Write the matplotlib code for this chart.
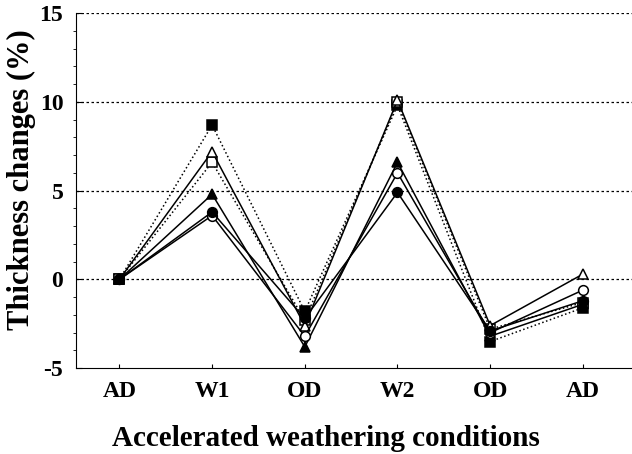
import matplotlib.pyplot as plt
from matplotlib.ticker import MultipleLocator

plt.rcParams['font.family'] = ['Liberation Serif', 'DejaVu Serif']
plt.rcParams['font.weight'] = 'bold'
plt.rcParams['axes.unicode_minus'] = False

conditions = ["AD", "W1", "OD", "W2", "OD", "AD"]

# thickness change (%) for each sample
sq_filled = [0, 8.7, -1.8, 9.8, -3.5, -1.6]
sq_open = [0, 6.6, -2.3, 10.0, -2.8, -1.3]
tri_open = [0, 7.2, -2.6, 10.1, -2.6, 0.3]
tri_filled = [0, 4.8, -3.8, 6.6, -3.2, -1.4]
circ_open = [0, 3.6, -3.2, 6.0, -3.0, -0.6]
circ_filled = [0, 3.8, -2.2, 4.9, -2.9, -1.2]

x = list(range(len(conditions)))

fig = plt.figure(figsize=(6.32, 4.54), dpi=100)
ax = fig.add_axes([0.120, 0.189, 0.880, 0.782])

styles = [
    (sq_filled, 's', 'black', ':'),
    (sq_open, 's', 'white', ':'),
    (tri_open, '^', 'white', '-'),
    (tri_filled, '^', 'black', '-'),
    (circ_open, 'o', 'white', '-'),
    (circ_filled, 'o', 'black', '-'),
]
for vals, m, fc, ls in styles:
    ax.plot(x, vals, linestyle=ls, color='black', linewidth=1.1,
            marker=m, markersize=7, markerfacecolor=fc,
            markeredgecolor='black', markeredgewidth=1.1, zorder=3)

ax.set_xlim(-0.47, 5.53)
ax.set_ylim(-5, 15)
ax.set_xticks(x)
ax.set_xticklabels(conditions)
ax.yaxis.set_major_locator(MultipleLocator(5))
ax.yaxis.set_minor_locator(MultipleLocator(1))
ax.tick_params(axis='both', direction='in', labelsize=17)
ax.tick_params(axis='y', which='major', length=4, pad=9)
ax.tick_params(axis='y', which='minor', length=2)
ax.tick_params(axis='x', length=3, pad=9)

for yv in [0, 5, 10, 15]:
    ax.axhline(yv, color='black', linestyle=(0, (2, 2)), linewidth=0.9, zorder=1)

ax.spines['top'].set_visible(False)
ax.spines['right'].set_visible(False)

ax.set_ylabel("Thickness changes (%)", fontsize=22, fontweight='bold')
ax.yaxis.set_label_coords(-0.072, 0.53)
ax.set_xlabel("Accelerated weathering conditions", fontsize=21, fontweight='bold')
ax.xaxis.set_label_coords(0.45, -0.16)

fig.savefig("out.png", dpi=100)
